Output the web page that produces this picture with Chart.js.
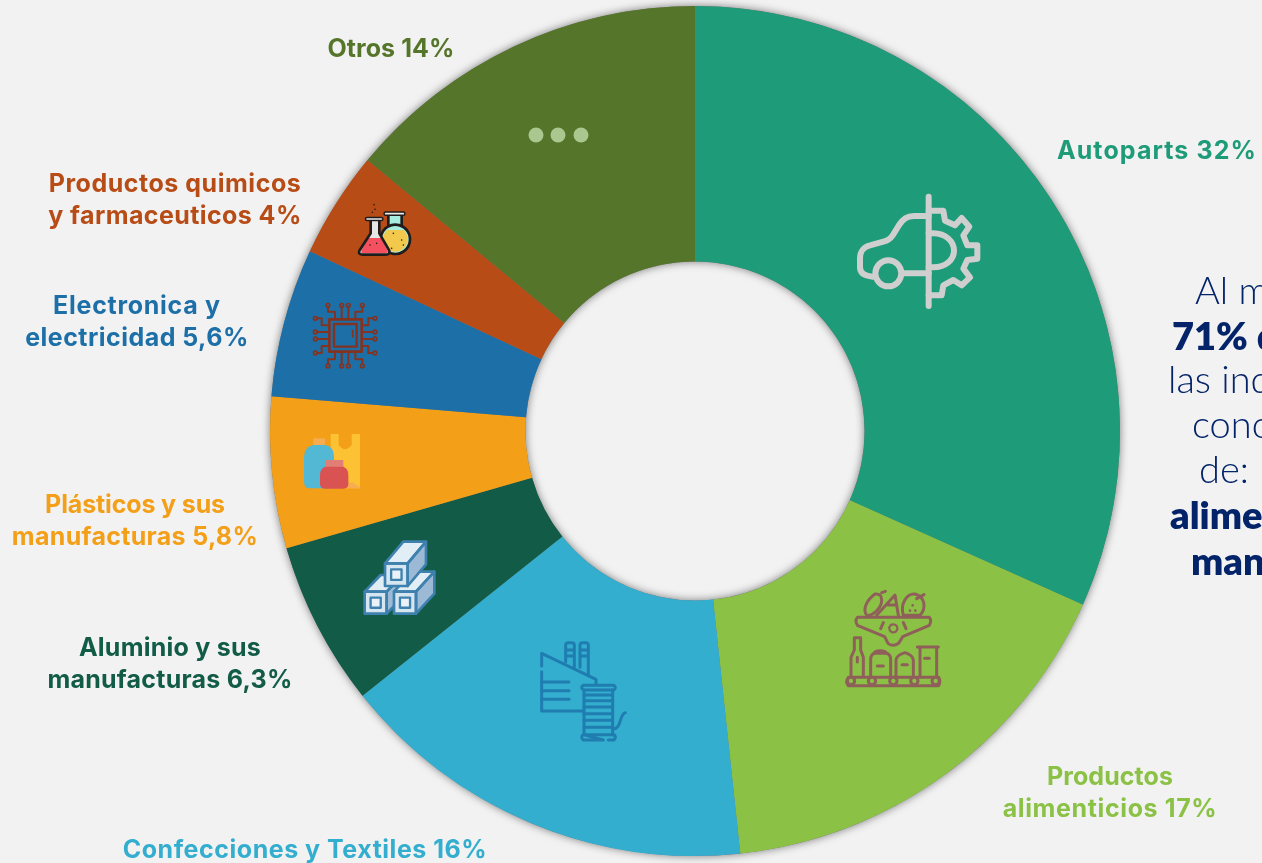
<!DOCTYPE html>
<html lang="es"><head><meta charset="utf-8"><title>Industrias</title>
<style>html,body{margin:0;padding:0;background:#f2f2f2;overflow:hidden}canvas{display:block}</style>
<script src="https://cdn.jsdelivr.net/npm/chart.js@4"></script></head>
<body><canvas id="c" width="1262" height="863"></canvas>
<script>
const categories=["Autoparts","Productos alimenticios","Confecciones y Textiles","Aluminio y sus manufacturas","Plásticos y sus manufacturas","Electronica y electricidad","Productos quimicos y farmaceuticos","Otros"];
const shares=[31.7,16.6,16.0,6.25,5.75,5.65,4.05,14.0];
const sliceColors=["#1e9b78","#8bc246","#34aecf","#115b47","#f39f18","#1d6fa8","#b84c16","#55752a"];
const labelTexts=[["Autoparts 32%"],["Productos","alimenticios 17%"],["Confecciones y Textiles 16%"],["Aluminio y sus","manufacturas 6,3%"],["Plásticos y sus","manufacturas 5,8%"],["Electronica y","electricidad 5,6%"],["Productos quimicos","y farmaceuticos 4%"],["Otros 14%"]];
const labelWidths=[[199],[126,214],[364],[182,245],[180,246],[167,223],[252,253],[127]];
const labelCentersX=[1157,1110,305,170,135,137,175,391];
const labelFirstY=[151.5,777.5,850.5,648.5,505.5,306.5,184.5,49.5];
const labelLineGap=31.5;
const sideLines=["Al menos","71% de","las industrias","concentradas","de:","alimentos","manufacturas"];
const sideBold=[false,true,false,false,false,true,true];
const sideX=[1195,1172,1168,1192,1199,1170,1191];
const sideY=[292,338,381,426,471,517,563];
const navy="#04246a";
const FONT='Lato, "Open Sans", sans-serif';
const LABEL_FONT='Inter, Lato, sans-serif';

function withT(ctx,ox,oy,s,fn){ctx.save();ctx.translate(ox,oy);ctx.scale(s,s);ctx.lineCap="round";ctx.lineJoin="round";fn(ctx);ctx.restore();}
function st(ctx,d,c,w){ctx.strokeStyle=c;ctx.lineWidth=w;ctx.stroke(new Path2D(d));}
function fl(ctx,d,c){ctx.fillStyle=c;ctx.fill(new Path2D(d));}
function carIcon(ctx){const c="#cfcfcf",w=18;
 st(ctx,"M266 50V378",c,w);
 st(ctx,"M266 108H222C200 108 190 118 178 134L158 166C150 178 142 182 130 185L90 196C72 200 60 215 60 235V262C60 278 72 288 98 290",c,w);
 ctx.strokeStyle=c;ctx.lineWidth=w;ctx.beginPath();ctx.arc(145,280,39,0,7);ctx.stroke();
 st(ctx,"M186 280H266",c,w);
 st(ctx,"M266 160H280C318 160 342 185 342 212C342 238 318 262 280 262H266",c,w);
 st(ctx,"M266 92H310L315 122L345 136L365 114L388 140L370 166L382 196H412V236L382 240L370 266L390 292L365 316L340 300L310 316L305 346H266",c,w);}
function chipIcon(ctx){const c="#83331f",w=6;
 st(ctx,"M148 418H245V515H148Z",c,8);st(ctx,"M162 432H230V500H162Z",c,7);st(ctx,"M218 452V470",c,5);
 ["M144 382V395H165V418","M185 382V418","M205 382V418","M247 382V395H226V418",
  "M144 552V538H165V515","M185 552V515","M205 552V515","M247 552V538H226V515",
  "M112 415H125V436H148","M112 456H148","M112 477H148","M112 519H125V498H148",
  "M279 415H265V436H245","M279 456H245","M279 477H245","M279 519H265V498H245"].forEach(d=>st(ctx,d,c,w));
 [[144,376],[185,376],[205,376],[247,376],[144,558],[185,558],[205,558],[247,558],[106,415],[106,456],[106,477],[106,519],[285,415],[285,456],[285,477],[285,519]].forEach(p=>{ctx.strokeStyle=c;ctx.lineWidth=5;ctx.beginPath();ctx.arc(p[0],p[1],5.5,0,7);ctx.stroke();});}
function flaskIcon(ctx){const k="#201c1c",w=8;
 ctx.beginPath();ctx.arc(346,178,44,0,7);ctx.fillStyle="#a6ecdf";ctx.fill();
 fl(ctx,"M326 108H364V135H326Z","#a6ecdf");
 ctx.save();ctx.beginPath();ctx.arc(346,178,37,0,7);ctx.clip();fl(ctx,"M300 150H390V230H300Z","#f2c94c");ctx.restore();
 ctx.lineWidth=w;ctx.strokeStyle=k;ctx.beginPath();ctx.arc(346,178,44,-2.1,-1.05+6.28);ctx.stroke();
 st(ctx,"M325 100V136M365 100V136",k,w);st(ctx,"M317 101H370",k,14);st(ctx,"M317 101H370","#e8e8e8",5);
 fl(ctx,"M272 122H298V160L328 212Q330 224 318 224H248Q234 224 238 212L272 160Z","#e6e6e6");
 fl(ctx,"M264 174H304L324 214Q324 220 316 220H250Q242 220 244 212Z","#f4505f");
 st(ctx,"M272 122V160L238 212Q234 224 248 224H318Q330 224 328 212L298 160V122",k,w);
 st(ctx,"M261 117H304",k,14);st(ctx,"M261 117H304","#e8e8e8",5);
 [[282,74],[285,88],[277,97],[270,195],[290,190],[340,160],[365,180],[335,205],[370,195]].forEach(p=>{ctx.fillStyle=k;ctx.beginPath();ctx.arc(p[0],p[1],2.4,0,7);ctx.fill();});}
function plasticIcon(ctx){
 fl(ctx,"M152 762H176V795Q195 820 215 795V762H240V925H152Z","#fdc233");
 fl(ctx,"M100 775H135V798H100Z","#f6ad4f");
 fl(ctx,"M100 795H135Q162 800 162 830V925H90Q72 925 72 905V830Q72 802 100 795Z","#52b8d3");
 fl(ctx,"M205 925L245 925L220 908H190Z","#f6ad4f");
 fl(ctx,"M135 840H190V862H135Z","#e17f77");
 fl(ctx,"M135 860H190Q205 865 205 885V912Q205 926 190 926H135Q120 926 120 912V885Q120 865 135 860Z","#d95353");}
function textileIcon(ctx){const c="#1f7db0",w=9;
 ["M65 258V220L228 298V312","M65 275V393H190","M65 306H147","M65 332H147","M65 358H147",
  "M137 245V195Q137 188 145 188H155Q163 188 163 195V262","M180 262V195Q180 188 188 188H197Q205 188 205 195V282",
  "M140 210H160M140 228H160M183 210H202M183 228H202",
  "M190 316H282Q290 322 282 330H190Q180 322 190 316Z",
  "M190 464H282Q290 472 282 480H265M250 480H190Q180 472 190 464Z",
  "M192 330V464M278 330V464","M192 345H278M192 362H278M192 381H278M192 401H278M192 421H278M192 442H278",
  "M278 446C305 450 298 400 316 398"].forEach(d=>st(ctx,d,c,w));}
function foodIcon(ctx){const c="#8f5f59",w=9;
 ["M985 292H1256Q1263 305 1256 317H985Q975 305 985 292Z",
  "M993 288V232L1003 210V173H1022V210L1030 232V288","M1012 232V246",
  "M1052 288V240Q1052 222 1065 220H1098Q1112 222 1112 240V288","M1062 220Q1064 212 1080 212Q1098 212 1100 220","M1072 258H1090",
  "M1128 288V240Q1130 225 1155 218Q1178 225 1180 240V288","M1146 254H1162",
  "M1200 288V206M1250 206V288M1192 201H1255","M1214 235H1228",
  "M1012 112H1228Q1236 122 1228 136L1148 170L1136 190Q1118 202 1104 190L1094 170L1012 136Q1004 122 1012 112Z",
  "M1090 128L1082 146M1150 128L1158 146","M1042 108C1025 90 1040 60 1065 42Q1085 40 1085 60C1085 85 1060 105 1042 108Z",
  "M1085 38L1096 34M1070 106L1125 45L1135 106M1105 75L1128 75",
  "M1150 106C1140 70 1160 40 1185 42C1215 50 1220 85 1200 106Z","M1190 56L1212 44"
 ].forEach(d=>st(ctx,d,c,w));
 [[993,303],[1056,303],[1120,303],[1183,303],[1247,303]].forEach(p=>{ctx.strokeStyle=c;ctx.lineWidth=w;ctx.beginPath();ctx.arc(p[0],p[1],11,0,7);ctx.fillStyle="#8bc246";ctx.fill();ctx.stroke();});
 ctx.strokeStyle=c;ctx.lineWidth=7;ctx.setLineDash([5,4]);ctx.beginPath();ctx.arc(1120,145,12,0,7);ctx.stroke();ctx.setLineDash([]);
 ctx.fillStyle=c;[[1170,92],[1186,92],[1178,76]].forEach(p=>{ctx.beginPath();ctx.arc(p[0],p[1],4,0,7);ctx.fill();});}
function beam(ctx,x,y,s,topBack){const l="#3e80ae";
 const o=s;const bx=x+o+topBack[0],by=y+topBack[1];
 const top=`M${x} ${y}L${x+topBack[0]} ${by}H${bx}L${x+o} ${y}Z`;
 const side=`M${x+o} ${y}L${bx} ${by}V${by+o}L${x+o} ${y+o}Z`;
 fl(ctx,top,"#e2eef5");fl(ctx,side,"#9cbad6");fl(ctx,`M${x} ${y}H${x+o}V${y+o}H${x}Z`,"#d6e6f1");
 st(ctx,top,l,8);st(ctx,side,l,8);st(ctx,`M${x} ${y}H${x+o}V${y+o}H${x}Z`,l,8);
 const m=o*0.27;fl(ctx,`M${x+m} ${y+m}H${x+o-m}V${y+o-m}H${x+m}Z`,"#eaf2f8");st(ctx,`M${x+m} ${y+m}H${x+o-m}V${y+o-m}H${x+m}Z`,l,7);}
function metalIcon(ctx){beam(ctx,44,185,66,[48,-50]);beam(ctx,132,185,66,[55,-60]);beam(ctx,105,100,68,[55,-65]);}

const decorations={id:"decorations",
 beforeDatasetsDraw(chart){const a=chart.getDatasetMeta(0).data[0],ctx=chart.ctx;ctx.save();
  ctx.shadowColor="rgba(0,0,0,0.5)";ctx.shadowBlur=9;ctx.fillStyle="#777";
  ctx.beginPath();ctx.arc(a.x,a.y,a.outerRadius,0,Math.PI*2);ctx.moveTo(a.x+a.innerRadius,a.y);ctx.arc(a.x,a.y,a.innerRadius,0,Math.PI*2,true);ctx.fill("evenodd");ctx.restore();},
 afterDatasetsDraw(chart){const ctx=chart.ctx;
  withT(ctx,840,180,1/3,carIcon);withT(ctx,280,180,1/3,chipIcon);withT(ctx,280,180,1/3,flaskIcon);withT(ctx,280,180,1/3,plasticIcon);
  withT(ctx,520,580,1/3,textileIcon);withT(ctx,520,580,1/3,foodIcon);withT(ctx,350,530,1/3,metalIcon);
  ctx.save();ctx.fillStyle="#a9c78f";[536,558,581].forEach(x=>{ctx.beginPath();ctx.arc(x,135,7.5,0,7);ctx.fill();});
  ctx.textAlign="center";ctx.textBaseline="middle";ctx.font="700 25px "+LABEL_FONT;
  labelTexts.forEach((ls,i)=>{ctx.fillStyle=sliceColors[i];ls.forEach((t,j)=>{
    ctx.letterSpacing="0px";const base=ctx.measureText(t).width;
    ctx.letterSpacing=((labelWidths[i][j]-base)/(t.length-1)).toFixed(2)+"px";
    ctx.fillText(t,labelCentersX[i],labelFirstY[i]+j*labelLineGap);});});
  ctx.letterSpacing="0px";ctx.textAlign="left";ctx.fillStyle=navy;
  sideLines.forEach((t,i)=>{ctx.font=(sideBold[i]?"800 ":"300 ")+"38px "+FONT;ctx.fillText(t,sideX[i],sideY[i]);});
  ctx.restore();}};

new Chart(document.getElementById("c"),{type:"doughnut",
 data:{labels:categories,datasets:[{data:shares,backgroundColor:sliceColors,borderWidth:0,hoverOffset:0}]},
 plugins:[decorations],
 options:{responsive:false,animation:false,cutout:"39.9%",rotation:0,
  layout:{padding:{left:270,right:142,top:6,bottom:7}},
  plugins:{legend:{display:false},tooltip:{enabled:false}}}});
</script></body></html>
